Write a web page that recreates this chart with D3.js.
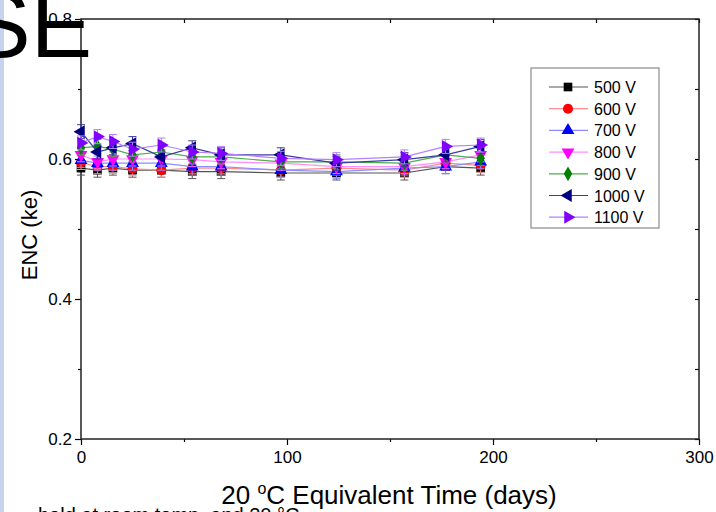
<!DOCTYPE html>
<html>
<head>
<meta charset="utf-8">
<script src="https://cdn.jsdelivr.net/npm/d3@7"></script>
<style>
  body { margin: 0; background: #fff; }
  svg { display: block; }
</style>
</head>
<body>
<script>
// Equivalent time at 20 °C (days)
const days = [0, 8, 15.5, 25, 39, 54, 68, 97, 124, 157, 177, 194];

const v500  = [0.587, 0.584, 0.587, 0.584, 0.584, 0.582, 0.582, 0.580, 0.580, 0.580, 0.589, 0.587];
const v600  = [0.595, 0.589, 0.589, 0.586, 0.584, 0.587, 0.587, 0.584, 0.587, 0.584, 0.594, 0.591];
const v700  = [0.598, 0.594, 0.594, 0.594, 0.594, 0.589, 0.589, 0.584, 0.582, 0.587, 0.589, 0.596];
const v800  = [0.606, 0.596, 0.600, 0.600, 0.600, 0.599, 0.596, 0.594, 0.589, 0.589, 0.596, 0.606];
const v900  = [0.616, 0.618, 0.614, 0.606, 0.610, 0.603, 0.603, 0.596, 0.596, 0.594, 0.606, 0.601];
const v1000 = [0.639, 0.610, 0.616, 0.622, 0.603, 0.616, 0.606, 0.606, 0.594, 0.599, 0.606, 0.618];
const v1100 = [0.623, 0.632, 0.625, 0.614, 0.620, 0.610, 0.608, 0.601, 0.599, 0.603, 0.618, 0.620];
const errBar = 0.01;

const seriesNames = ["500 V", "600 V", "700 V", "800 V", "900 V", "1000 V", "1100 V"];
const seriesValues = [v500, v600, v700, v800, v900, v1000, v1100];
const colors = ["#000000", "#ff0000", "#0000ff", "#ff00ff", "#008000", "#000080", "#8000ff"];
const lineColors = ["#555555", "#ff8c8c", "#8c8cff", "#ff8cff", "#4caf4c", "#3a3aa0", "#b380ff"];
const symbols = ["square", "circle", "up", "down", "diamond", "left", "right"];

const xTicks = [0, 100, 200, 300];
const xMinor = [50, 150, 250];
const yTicks = [0.2, 0.4, 0.6, 0.8];
const yMinor = [0.3, 0.5, 0.7];

const width = 716, height = 512;
const margin = {top: 19, right: 17, bottom: 73, left: 81};
const innerW = width - margin.left - margin.right;
const innerH = height - margin.top - margin.bottom;
const font = "'Liberation Sans', Arial, sans-serif";

const svg = d3.select("body").append("svg")
  .attr("width", width).attr("height", height)
  .style("font-family", font);

// slide left strip
svg.append("rect").attr("x", 0).attr("y", 0).attr("width", 4).attr("height", height)
  .attr("fill", "#c6d4ef");

const x = d3.scaleLinear().domain([0, 300]).range([0, innerW]);
const y = d3.scaleLinear().domain([0.2, 0.8]).range([innerH, 0]);

const g = svg.append("g").attr("transform", `translate(${margin.left},${margin.top})`);

// Axes
function styleAxis(sel) {
  sel.select(".domain").remove();
  sel.selectAll("line").attr("stroke", "#000").attr("stroke-width", 1.2);
  sel.selectAll("text").style("font-size", "17px").style("font-family", font).attr("fill", "#000");
}
g.append("g").attr("transform", `translate(0,${innerH})`)
  .call(d3.axisBottom(x).tickValues(xTicks).tickSize(6).tickPadding(6))
  .call(styleAxis);
g.append("g").attr("transform", `translate(0,${innerH})`)
  .call(d3.axisBottom(x).tickValues(xMinor).tickSize(3).tickFormat(""))
  .call(styleAxis);
g.append("g")
  .call(d3.axisLeft(y).tickValues(yTicks).tickSize(6).tickPadding(3).tickFormat(d3.format(".1f")))
  .call(styleAxis);
g.append("g")
  .call(d3.axisLeft(y).tickValues(yMinor).tickSize(3).tickFormat(""))
  .call(styleAxis);
// mirror axes, ticks inward
g.append("g")
  .call(d3.axisBottom(x).tickValues(xTicks.concat(xMinor)).tickSize(4).tickFormat(""))
  .call(styleAxis);
g.append("g").attr("transform", `translate(${innerW},0)`)
  .call(d3.axisLeft(y).tickValues(yTicks.concat(yMinor)).tickSize(4).tickFormat(""))
  .call(styleAxis);

g.append("rect").attr("width", innerW).attr("height", innerH)
  .attr("fill", "none").attr("stroke", "#222").attr("stroke-width", 1.5);

// Axis titles
g.append("text")
  .attr("transform", "rotate(-90)")
  .attr("x", -216).attr("y", -44)
  .attr("text-anchor", "middle")
  .style("font-size", "22px")
  .text("ENC (ke)");

const xt = g.append("text")
  .attr("x", 389 - margin.left).attr("y", innerH + 65)
  .attr("text-anchor", "middle")
  .style("font-size", "26px");
xt.append("tspan").text("20 ");
xt.append("tspan").attr("dy", -10).style("font-size", "16px").text("o");
xt.append("tspan").attr("dy", 10).text("C Equivalent Time (days)");

// Symbols
const symMap = {
  square: d3.symbolSquare, circle: d3.symbolCircle, up: d3.symbolTriangle,
  down: d3.symbolTriangle, diamond: d3.symbolDiamond, left: d3.symbolTriangle, right: d3.symbolTriangle
};
const rotMap = {square: 0, circle: 0, up: 0, down: 180, diamond: 0, left: -90, right: 90};
const sizeMap = {square: 75, circle: 80, up: 72, down: 72, diamond: 62, left: 72, right: 72};
function marker(sel, s, color) {
  sel.append("path")
    .attr("d", d3.symbol().type(symMap[s]).size(sizeMap[s]))
    .attr("transform", `rotate(${rotMap[s]})`)
    .attr("fill", color);
}

const line = d3.line().x((d, i) => x(days[i])).y(d => y(d));

seriesValues.forEach((vals, k) => {
  const sg = g.append("g");
  sg.append("path").datum(vals)
    .attr("d", line).attr("fill", "none")
    .attr("stroke", lineColors[k]).attr("stroke-width", 1.2);
  vals.forEach((v, i) => {
    const cx = x(days[i]);
    const eb = sg.append("g").attr("stroke", lineColors[k]).attr("stroke-width", 1);
    eb.append("line").attr("x1", cx).attr("x2", cx).attr("y1", y(v - errBar)).attr("y2", y(v + errBar));
    eb.append("line").attr("x1", cx - 4).attr("x2", cx + 4).attr("y1", y(v - errBar)).attr("y2", y(v - errBar));
    eb.append("line").attr("x1", cx - 4).attr("x2", cx + 4).attr("y1", y(v + errBar)).attr("y2", y(v + errBar));
  });
  vals.forEach((v, i) => {
    const m = sg.append("g").attr("transform", `translate(${x(days[i])},${y(v)})`);
    marker(m, symbols[k], colors[k]);
  });
});

// Legend
const legend = svg.append("g").attr("transform", "translate(531,68)");
legend.append("rect").attr("width", 128).attr("height", 160)
  .attr("fill", "#fff").attr("stroke", "#8a8a8a").attr("stroke-width", 1.2);
seriesNames.forEach((name, k) => {
  const row = legend.append("g").attr("transform", `translate(0,${19 + k * 21.7})`);
  row.append("line").attr("x1", 18).attr("x2", 57).attr("y1", 0).attr("y2", 0)
    .attr("stroke", lineColors[k]).attr("stroke-width", 1.2);
  const m = row.append("g").attr("transform", "translate(37,0)");
  marker(m, symbols[k], colors[k]);
  row.append("text").attr("x", 63).attr("y", 6)
    .style("font-size", "16px").text(name);
});

// slide fragments around the chart
svg.append("text").attr("x", 92).attr("y", 57)
  .attr("text-anchor", "end")
  .style("font-size", "92px")
  .text("SE");
svg.append("text").attr("x", 38).attr("y", 522)
  .style("font-size", "20px")
  .text("held at room temp. and 20 °C");
</script>
</body>
</html>
